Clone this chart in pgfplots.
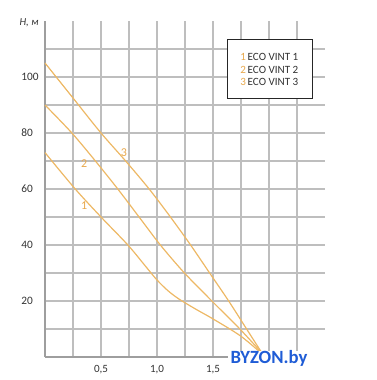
\documentclass[border=0pt]{standalone}
\usepackage{pgfplots}
\pgfplotsset{compat=1.18}
\usepackage{fontspec}
\setmainfont{Carlito}
\definecolor{curve}{HTML}{EDB865}
\definecolor{lab}{HTML}{E8A84C}
\definecolor{gridc}{HTML}{BEBEBE}
\definecolor{axc}{HTML}{9E9E9E}
\definecolor{txt}{HTML}{333333}
\definecolor{wm}{HTML}{1F5CD6}
\begin{document}
\begin{tikzpicture}
\useasboundingbox (0pt,0pt) rectangle (282.75pt,285pt);
\begin{axis}[
  at={(33.75pt,17.25pt)}, anchor=south west,
  scale only axis, width=210pt, height=252pt,
  xmin=0, xmax=2.5, ymin=0, ymax=120,
  axis lines*=left,
  axis line style={draw=axc, line width=1.6pt},
  xtick={0.25,0.5,0.75,1.0,1.25,1.5,1.75,2.0,2.25},
  xticklabels={,{0,5},,{1,0},,{1,5},,,},
  ytick={10,20,30,40,50,60,70,80,90,100,110},
  yticklabels={,20,,40,,60,,80,,100,},
  major tick length=0pt,
  xmajorgrids=true, ymajorgrids=true,
  major grid style={draw=gridc, line width=1.2pt},
  xticklabel style={anchor=north, inner sep=0pt, yshift=-6.3pt, font=\fontsize{8.3}{9}\selectfont, text=txt},
  yticklabel style={anchor=west, inner sep=0pt, xshift=-18pt, font=\fontsize{8.5}{9}\selectfont, text=txt},
  clip=false,
]
% curve 1
\addplot[curve, line width=0.9pt, smooth, tension=0.5] coordinates {
 (0,73) (0.27,60) (0.5,50) (0.74,40) (0.9,32.3) (1.0,27.5) (1.1,23.6) (1.2,20.6) (1.35,17) (1.5,13.6) (1.75,7.4) (1.97,0)};
% curve 2
\addplot[curve, line width=0.9pt, smooth, tension=0.5] coordinates {
 (0,90) (0.24,80) (0.45,70) (0.65,60) (0.84,50) (1.03,40) (1.245,30) (1.49,20) (1.74,10) (1.97,0)};
% curve 3
\addplot[curve, line width=0.9pt, smooth, tension=0.5] coordinates {
 (0,105) (0.25,92.5) (0.5,80) (0.72,70) (0.93,60) (1.12,50) (1.3,40) (1.47,30) (1.64,20) (1.80,10) (1.96,0)};
\node[text=lab, font=\fontsize{9}{10}\selectfont] at (axis cs:0.35,54) {1};
\node[text=lab, font=\fontsize{9}{10}\selectfont] at (axis cs:0.35,69.2) {2};
\node[text=lab, font=\fontsize{9}{10}\selectfont] at (axis cs:0.705,73.1) {3};
\end{axis}
% axis title
\node[text=txt, font=\fontsize{8}{9}\selectfont\itshape] at (21.75pt,268.1pt) {H, м};
% legend
\draw[black!85, line width=0.6pt, fill=white] (170.25pt,211.5pt) rectangle (234pt,255.75pt);
\node[anchor=west, inner sep=0pt, font=\fontsize{8.3}{9}\selectfont] at (180pt,242.25pt) {\textcolor{lab}{1}\,\textcolor{txt}{ECO VINT 1}};
\node[anchor=west, inner sep=0pt, font=\fontsize{8.3}{9}\selectfont] at (180pt,232.875pt) {\textcolor{lab}{2}\,\textcolor{txt}{ECO VINT 2}};
\node[anchor=west, inner sep=0pt, font=\fontsize{8.3}{9}\selectfont] at (180pt,223.5pt) {\textcolor{lab}{3}\,\textcolor{txt}{ECO VINT 3}};
% watermark
\fill[white] (171pt,0pt) rectangle (282.75pt,21.75pt);
\node[text=wm, font=\fontsize{14}{16}\selectfont\bfseries] at (201.75pt,16.125pt) {BYZON.by};
\end{tikzpicture}
\end{document}
